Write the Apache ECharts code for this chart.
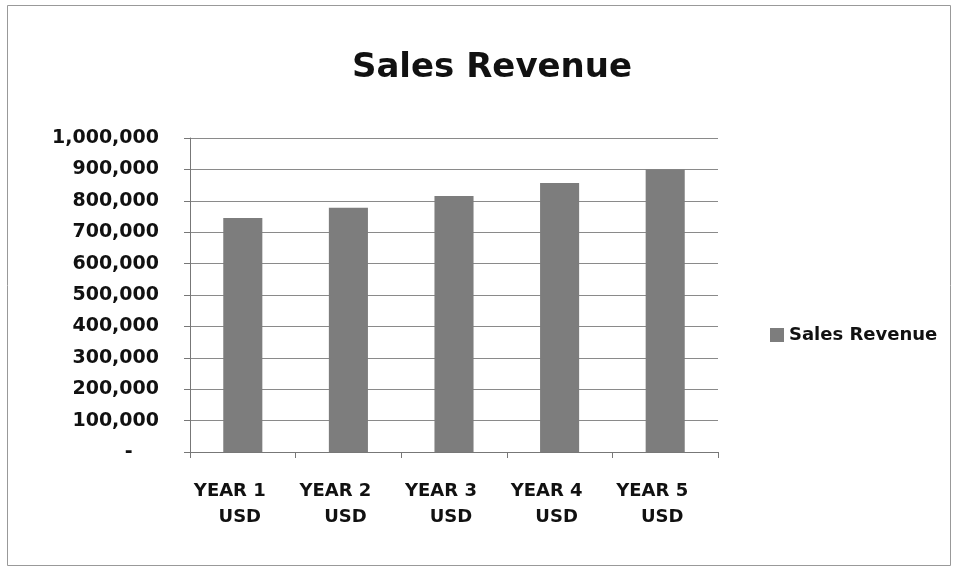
<!DOCTYPE html>
<html>
<head>
<meta charset="utf-8">
<script src="https://cdn.jsdelivr.net/npm/echarts@6/dist/echarts.min.js"></script>
<style>body{margin:0;background:#fff}#c{width:958px;height:575px}</style>
</head>
<body>
<div id="c"></div>
<script>
// data
const years = ["YEAR 1", "YEAR 2", "YEAR 3", "YEAR 4", "YEAR 5"];
const currency = "USD";
const revenue = [745000, 778000, 815000, 857000, 900000];
const seriesName = "Sales Revenue";

const font = "'DejaVu Sans', sans-serif";
const chart = echarts.init(document.getElementById("c"), null, { renderer: "canvas" });
chart.setOption({
  animation: false,
  backgroundColor: "#fff",
  title: {
    text: "Sales Revenue",
    left: 487, top: 46, textAlign: "center",
    textStyle: { fontFamily: font, fontWeight: "bold", fontSize: 34, color: "#111" }
  },
  legend: {
    left: 765, top: 321,
    itemWidth: 14, itemHeight: 14, itemGap: 6,
    icon: "rect",
    textStyle: { fontFamily: font, fontWeight: "bold", fontSize: 18, color: "#111" },
    data: [seriesName]
  },
  grid: { left: 190, right: 240, top: 138, bottom: 123 },
  xAxis: {
    type: "category",
    data: years,
    axisLine: { lineStyle: { color: "#777", width: 1 } },
    axisTick: { show: true, length: 6, lineStyle: { color: "#777" } },
    axisLabel: {
      margin: 26,
      formatter: v => `{a|${v}}\n{b|${currency}}`,
      rich: {
        a: { fontFamily: font, fontWeight: "bold", fontSize: 18, color: "#111", lineHeight: 26, padding: [0, 26, 0, 0] },
        b: { fontFamily: font, fontWeight: "bold", fontSize: 18, color: "#111", lineHeight: 26, padding: [0, 6, 0, 0] }
      }
    }
  },
  yAxis: {
    type: "value",
    min: 0, max: 1000000, interval: 100000,
    axisLine: { show: true, lineStyle: { color: "#777" } },
    axisTick: { show: true, length: 6, lineStyle: { color: "#777" } },
    splitLine: { lineStyle: { color: "#8a8a8a", width: 1 } },
    axisLabel: {
      margin: 31,
      padding: [5, 0, 0, 0],
      fontFamily: font, fontWeight: "bold", fontSize: 19, color: "#111",
      formatter: v => v === 0 ? "-    " : v.toLocaleString("en-US")
    }
  },
  series: [{
    name: seriesName,
    type: "bar",
    data: revenue,
    barWidth: "37%",
    itemStyle: { color: "#7d7d7d" }
  }],
  graphic: [{
    type: "rect",
    shape: { x: 7.5, y: 5.5, width: 943, height: 560 },
    style: { fill: null, stroke: "#999", lineWidth: 1 },
    silent: true
  }]
});
</script>
</body>
</html>
